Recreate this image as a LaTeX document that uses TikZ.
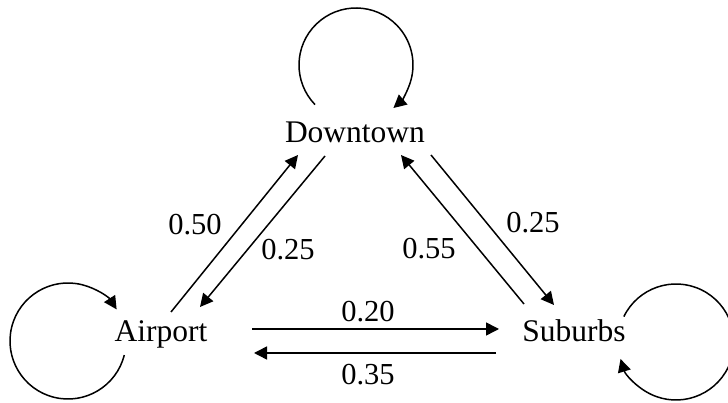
\documentclass[tikz,border=0pt]{standalone}
\usepackage{fontspec}
\setmainfont{Liberation Serif}
\usetikzlibrary{arrows.meta}
\begin{document}
\begin{tikzpicture}[x=1pt,y=1pt,
  state/.style={font=\fontsize{31.5}{36}\selectfont, anchor=base, inner sep=0pt},
  prob/.style={font=\fontsize{30.5}{36}\selectfont, inner sep=0pt},
  arr/.style={line width=1.5pt, -{Triangle[length=13pt,width=13pt]}}]
\useasboundingbox (0,0) rectangle (728,403);
% states
\node[state] (D) at (355,260) {Downtown};
\node[state] (A) at (161,61) {Airport};
\node[state] (S) at (574,61) {Suburbs};
% arrow end points
\coordinate (ad1) at (171,91);  \coordinate (ad2) at (298,248);
\coordinate (da1) at (325,247); \coordinate (da2) at (200,96);
\coordinate (ds1) at (431,248); \coordinate (ds2) at (554,98);
\coordinate (sd1) at (524,99);  \coordinate (sd2) at (401,248);
\coordinate (as1) at (252,74);  \coordinate (as2) at (499,74);
\coordinate (sa1) at (496,50);  \coordinate (sa2) at (254,50);
% loop centres
\coordinate (dc) at (356,338);
\coordinate (ac) at (68,62);
\coordinate (sc) at (676,61);
% transitions
\draw[arr] (ad1) -- (ad2);
\draw[arr] (da1) -- (da2);
\draw[arr] (ds1) -- (ds2);
\draw[arr] (sd1) -- (sd2);
\draw[arr] (as1) -- (as2);
\draw[arr] (sa1) -- (sa2);
% self loops
\draw[arr] ([shift={(224:57)}]dc) arc[start angle=224, end angle=-49, radius=57];
\draw[arr] ([shift={(-14:58)}]ac) arc[start angle=-14, end angle=-327, radius=58];
\draw[arr] ([shift={(154:58)}]sc) arc[start angle=154, end angle=-163, radius=58];
% probabilities
\node[prob] (p1) at (195,178) {0.50};
\node[prob] (p2) at (288,153) {0.25};
\node[prob] (p3) at (533,180) {0.25};
\node[prob] (p4) at (429,154) {0.55};
\node[prob] (p5) at (368,91) {0.20};
\node[prob] (p6) at (368,28) {0.35};
\end{tikzpicture}
\end{document}
